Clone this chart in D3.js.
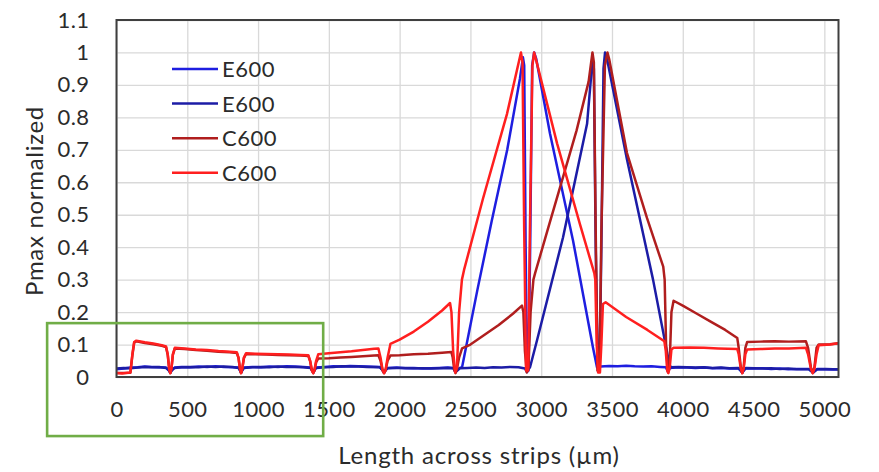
<!DOCTYPE html>
<html>
<head>
<meta charset="utf-8">
<script src="https://cdn.jsdelivr.net/npm/d3@7/dist/d3.min.js"></script>
<style>
  html, body { margin: 0; padding: 0; background: #fff; }
  svg { display: block; }
  text { font-family: Lato, "Open Sans", sans-serif; fill: #2b2b2b; }
</style>
</head>
<body>
<svg id="chart" width="879" height="472"></svg>
<script>
// Axis ticks
const xTicks = [0, 500, 1000, 1500, 2000, 2500, 3000, 3500, 4000, 4500, 5000];
const yTicks = [0, 0.1, 0.2, 0.3, 0.4, 0.5, 0.6, 0.7, 0.8, 0.9, 1, 1.1];

// Legend labels, one per series (in drawing order)
const seriesNames = ["E600", "E600", "C600", "C600"];

// Normalised Pmax profiles: [position (µm), Pmax / max]
const e600a = [
  [0,0.024],[50,0.026],[100,0.029],[150,0.030],[200,0.032],[250,0.031],[300,0.030],[350,0.029],[370,0.021],[380,0.014],[390,0.021],[410,0.029],
  [460,0.031],[520,0.030],[580,0.032],[640,0.031],[700,0.033],[760,0.031],[820,0.030],[862,0.029],[872,0.021],[880,0.014],[888,0.021],[900,0.029],
  [960,0.031],[1020,0.030],[1080,0.032],[1140,0.031],[1200,0.033],[1260,0.032],[1320,0.031],[1370,0.029],[1382,0.021],[1390,0.014],[1398,0.021],[1410,0.029],
  [1470,0.031],[1530,0.033],[1590,0.032],[1650,0.034],[1710,0.033],[1770,0.032],[1860,0.031],[1880,0.021],[1890,0.014],[1900,0.021],[1915,0.028],
  [1980,0.029],[2040,0.027],[2100,0.028],[2160,0.026],[2220,0.027],[2280,0.028],[2340,0.029],[2380,0.028],[2393,0.017],[2405,0.020],[2425,0.028],
  [2441,0.030],[2550,0.270],[2650,0.480],[2760,0.700],[2850,0.920],[2871,0.985],[2880,0.960],[2890,0.400],[2900,0.020],[2910,0.020],[2922,0.400],[2936,0.960],
  [2950,1.000],[2965,0.980],[3062,0.750],[3225,0.420],[3366,0.090],[3394,0.030],
  [3420,0.032],[3480,0.034],[3540,0.033],[3600,0.035],[3660,0.033],[3720,0.032],[3780,0.033],[3840,0.031],[3880,0.030],[3896,0.016],[3910,0.028],
  [3970,0.030],[4030,0.029],[4090,0.028],[4150,0.029],[4210,0.027],[4270,0.028],[4330,0.026],[4392,0.027],[4410,0.020],[4420,0.014],[4430,0.020],[4445,0.027],
  [4505,0.026],[4565,0.027],[4625,0.025],[4685,0.026],[4745,0.024],[4805,0.025],[4890,0.025],[4910,0.018],[4920,0.014],[4930,0.018],[4950,0.025],
  [5010,0.024],[5060,0.023],[5100,0.024]
];

const e600b = [
  [0,0.026],[50,0.028],[100,0.027],[150,0.029],[200,0.031],[250,0.030],[300,0.031],[350,0.028],[370,0.020],[380,0.013],[390,0.020],[410,0.028],
  [460,0.030],[520,0.031],[580,0.030],[640,0.032],[700,0.031],[760,0.032],[820,0.031],[862,0.028],[872,0.020],[880,0.013],[888,0.020],[900,0.028],
  [960,0.030],[1020,0.031],[1080,0.030],[1140,0.032],[1200,0.031],[1260,0.031],[1320,0.030],[1370,0.028],[1382,0.020],[1390,0.013],[1398,0.020],[1410,0.028],
  [1470,0.030],[1530,0.031],[1590,0.033],[1650,0.032],[1710,0.032],[1770,0.031],[1860,0.030],[1880,0.020],[1890,0.013],[1900,0.020],[1915,0.027],
  [1980,0.028],[2040,0.028],[2100,0.027],[2160,0.027],[2220,0.026],[2280,0.027],[2340,0.028],[2380,0.027],[2393,0.016],[2405,0.019],[2425,0.027],
  [2480,0.028],[2540,0.029],[2600,0.028],[2660,0.030],[2720,0.029],[2780,0.031],[2840,0.030],[2886,0.026],[2900,0.015],[2912,0.025],
  [2921,0.030],[2971,0.114],[3154,0.430],[3324,0.780],[3362,0.975],[3372,0.950],[3385,0.400],[3400,0.020],[3412,0.020],[3425,0.400],[3440,0.950],
  [3451,1.000],[3465,0.980],[3606,0.670],[3790,0.300],[3905,0.040],[3915,0.030],
  [3970,0.031],[4030,0.030],[4090,0.029],[4150,0.030],[4210,0.028],[4270,0.029],[4330,0.027],[4392,0.028],[4410,0.019],[4420,0.013],[4430,0.019],[4445,0.028],
  [4505,0.027],[4565,0.026],[4625,0.027],[4685,0.025],[4745,0.026],[4805,0.024],[4890,0.024],[4910,0.017],[4920,0.013],[4930,0.017],[4950,0.024],
  [5010,0.025],[5060,0.024],[5100,0.023]
];

const c600a = [
  [0,0.012],[98,0.013],[112,0.066],[125,0.106],[140,0.110],[200,0.105],[260,0.101],[320,0.096],[350,0.092],[362,0.068],[372,0.025],[380,0.012],[388,0.025],[398,0.068],[412,0.088],
  [480,0.086],[560,0.083],[640,0.081],[720,0.078],[800,0.076],[850,0.074],[862,0.058],[872,0.025],[880,0.012],[888,0.025],[900,0.058],[915,0.071],
  [980,0.070],[1060,0.069],[1140,0.068],[1220,0.067],[1300,0.066],[1355,0.065],[1368,0.048],[1380,0.020],[1390,0.012],[1398,0.020],[1410,0.045],[1425,0.057],
  [1500,0.058],[1580,0.060],[1660,0.062],[1740,0.064],[1820,0.066],[1850,0.067],[1865,0.050],[1880,0.020],[1890,0.012],[1900,0.020],[1915,0.050],[1935,0.066],
  [2000,0.067],[2100,0.070],[2200,0.072],[2300,0.075],[2365,0.077],[2375,0.060],[2385,0.025],[2395,0.012],[2405,0.025],[2420,0.060],[2441,0.088],
  [2500,0.100],[2600,0.130],[2700,0.160],[2800,0.195],[2864,0.220],[2874,0.200],[2885,0.080],[2898,0.014],[2910,0.030],[2925,0.200],[2945,0.300],
  [2957,0.320],[3050,0.460],[3150,0.610],[3250,0.760],[3335,0.910],[3362,1.000],[3372,0.970],[3385,0.450],[3398,0.020],[3412,0.020],[3425,0.450],[3450,0.960],
  [3468,1.000],[3480,0.980],[3606,0.690],[3747,0.490],[3862,0.340],[3872,0.300],[3882,0.100],[3896,0.014],[3908,0.050],[3920,0.200],[3935,0.235],
  [4000,0.220],[4100,0.195],[4200,0.170],[4300,0.145],[4385,0.120],[4395,0.090],[4410,0.030],[4420,0.012],[4430,0.030],[4442,0.090],[4455,0.108],
  [4550,0.109],[4650,0.110],[4750,0.109],[4870,0.110],[4885,0.090],[4905,0.030],[4918,0.012],[4930,0.030],[4945,0.090],[4960,0.100],[5040,0.101],[5100,0.104]
];

const c600b = [
  [0,0.012],[40,0.011],[80,0.013],[98,0.014],[112,0.070],[125,0.108],[140,0.112],[200,0.107],[260,0.103],[320,0.098],[350,0.094],[362,0.070],[372,0.025],[380,0.012],[388,0.025],[398,0.070],[412,0.090],
  [480,0.088],[560,0.085],[640,0.083],[720,0.080],[800,0.078],[850,0.076],[862,0.060],[872,0.025],[880,0.012],[888,0.025],[900,0.060],[915,0.073],
  [980,0.072],[1060,0.071],[1140,0.070],[1220,0.069],[1300,0.068],[1355,0.067],[1368,0.050],[1380,0.020],[1390,0.012],[1398,0.020],[1410,0.050],[1425,0.070],
  [1500,0.073],[1580,0.076],[1660,0.079],[1740,0.083],[1820,0.087],[1850,0.088],[1865,0.060],[1880,0.020],[1890,0.012],[1900,0.020],[1915,0.060],[1935,0.102],
  [2000,0.115],[2100,0.140],[2200,0.170],[2300,0.205],[2356,0.228],[2366,0.200],[2378,0.080],[2392,0.014],[2405,0.030],[2420,0.200],[2440,0.300],
  [2455,0.330],[2589,0.550],[2758,0.810],[2857,1.000],[2868,0.970],[2880,0.450],[2893,0.020],[2908,0.020],[2920,0.450],[2938,0.960],
  [2950,1.000],[2965,0.975],[3112,0.720],[3274,0.470],[3375,0.320],[3382,0.300],[3392,0.100],[3402,0.014],[3415,0.014],[3425,0.100],[3436,0.225],
  [3455,0.230],[3600,0.185],[3750,0.145],[3870,0.110],[3880,0.080],[3890,0.020],[3898,0.012],[3908,0.030],[3920,0.085],[3935,0.090],
  [4050,0.091],[4150,0.090],[4250,0.088],[4385,0.086],[4395,0.070],[4410,0.025],[4420,0.012],[4430,0.025],[4442,0.070],[4455,0.085],
  [4550,0.086],[4650,0.088],[4750,0.088],[4870,0.090],[4885,0.070],[4905,0.025],[4918,0.012],[4930,0.025],[4945,0.070],[4960,0.098],[5040,0.100],[5100,0.104]
];

const seriesData = [e600a, e600b, c600a, c600b];
const seriesColors = ["#1e1ee0", "#1c1ca6", "#b01e1e", "#ff1f1f"];

// Highlighted region (µm, normalised Pmax)
const highlightX = [-490, 1460];
const highlightY = [-0.182, 0.166];

const svg = d3.select("#chart");
const W = 879, H = 472;
const margin = { left: 116.5, right: 40.5, top: 20, bottom: 95 };

const x = d3.scaleLinear().domain([0, 5100]).range([margin.left, W - margin.right]);
const y = d3.scaleLinear().domain([0, 1.1]).range([H - margin.bottom, margin.top]);

// Gridlines
svg.append("g")
  .attr("transform", `translate(${margin.left},0)`)
  .call(d3.axisLeft(y).tickValues(yTicks).tickSize(-(x.range()[1] - x.range()[0])).tickFormat(""))
  .call(g => g.select(".domain").remove())
  .call(g => g.selectAll("line").attr("stroke", "#d9d9d9").attr("stroke-width", 1.3));

svg.append("g")
  .attr("transform", `translate(0,${y(0)})`)
  .call(d3.axisBottom(x).tickValues(xTicks).tickSize(-(y.range()[0] - y.range()[1])).tickFormat(""))
  .call(g => g.select(".domain").remove())
  .call(g => g.selectAll("line").attr("stroke", "#d9d9d9").attr("stroke-width", 1.3));

// Series lines
const line = d3.line().x(d => x(d[0])).y(d => y(d[1]));
svg.append("g")
  .selectAll("path")
  .data(seriesData)
  .join("path")
  .attr("d", line)
  .attr("fill", "none")
  .attr("stroke", (d, i) => seriesColors[i])
  .attr("stroke-width", 2.5)
  .attr("stroke-linejoin", "round");

// Plot frame
svg.append("rect")
  .attr("x", x(0)).attr("y", y(1.1))
  .attr("width", x(5100) - x(0)).attr("height", y(0) - y(1.1))
  .attr("fill", "none").attr("stroke", "#3f3f3f").attr("stroke-width", 2);

// Tick labels
svg.append("g")
  .attr("transform", `translate(${margin.left},0)`)
  .call(d3.axisLeft(y).tickValues(yTicks).tickSize(0).tickPadding(27).tickFormat(d => String(+d.toFixed(1))))
  .call(g => g.select(".domain").remove())
  .call(g => g.selectAll("text").style("font-family", "Lato, sans-serif").style("font-size", "22px")
    .style("letter-spacing", "0.4px").attr("fill", "#2b2b2b"));

svg.append("g")
  .attr("transform", `translate(0,${y(0)})`)
  .call(d3.axisBottom(x).tickValues(xTicks).tickSize(0).tickPadding(24).tickFormat(d => String(d)))
  .call(g => g.select(".domain").remove())
  .call(g => g.selectAll("text").style("font-family", "Lato, sans-serif").style("font-size", "22px")
    .style("letter-spacing", "0.4px").attr("fill", "#2b2b2b"));

// Axis titles
svg.append("text")
  .attr("x", 479)
  .attr("y", 464)
  .attr("text-anchor", "middle")
  .style("font-size", "24px")
  .style("letter-spacing", "0.8px")
  .text("Length across strips (µm)");

svg.append("text")
  .attr("transform", `translate(43,201) rotate(-90)`)
  .attr("text-anchor", "middle")
  .style("font-size", "24px")
  .style("letter-spacing", "0.7px")
  .text("Pmax normalized");

// Legend
const legend = svg.append("g").attr("transform", "translate(172,69)");
const rows = legend.selectAll("g").data(seriesNames).join("g")
  .attr("transform", (d, i) => `translate(0,${i * 34.6})`);
rows.append("line")
  .attr("x1", 0).attr("x2", 46).attr("y1", 0).attr("y2", 0)
  .attr("stroke", (d, i) => seriesColors[i]).attr("stroke-width", 2.5);
rows.append("text")
  .attr("x", 50).attr("y", 0).attr("dy", "0.36em")
  .style("font-size", "22px")
  .style("letter-spacing", "0.5px")
  .text(d => d);

// Highlight box
svg.append("rect")
  .attr("x", x(highlightX[0])).attr("y", y(highlightY[1]))
  .attr("width", x(highlightX[1]) - x(highlightX[0]))
  .attr("height", y(highlightY[0]) - y(highlightY[1]))
  .attr("fill", "none").attr("stroke", "#70ad47").attr("stroke-width", 2.6);
</script>
</body>
</html>
